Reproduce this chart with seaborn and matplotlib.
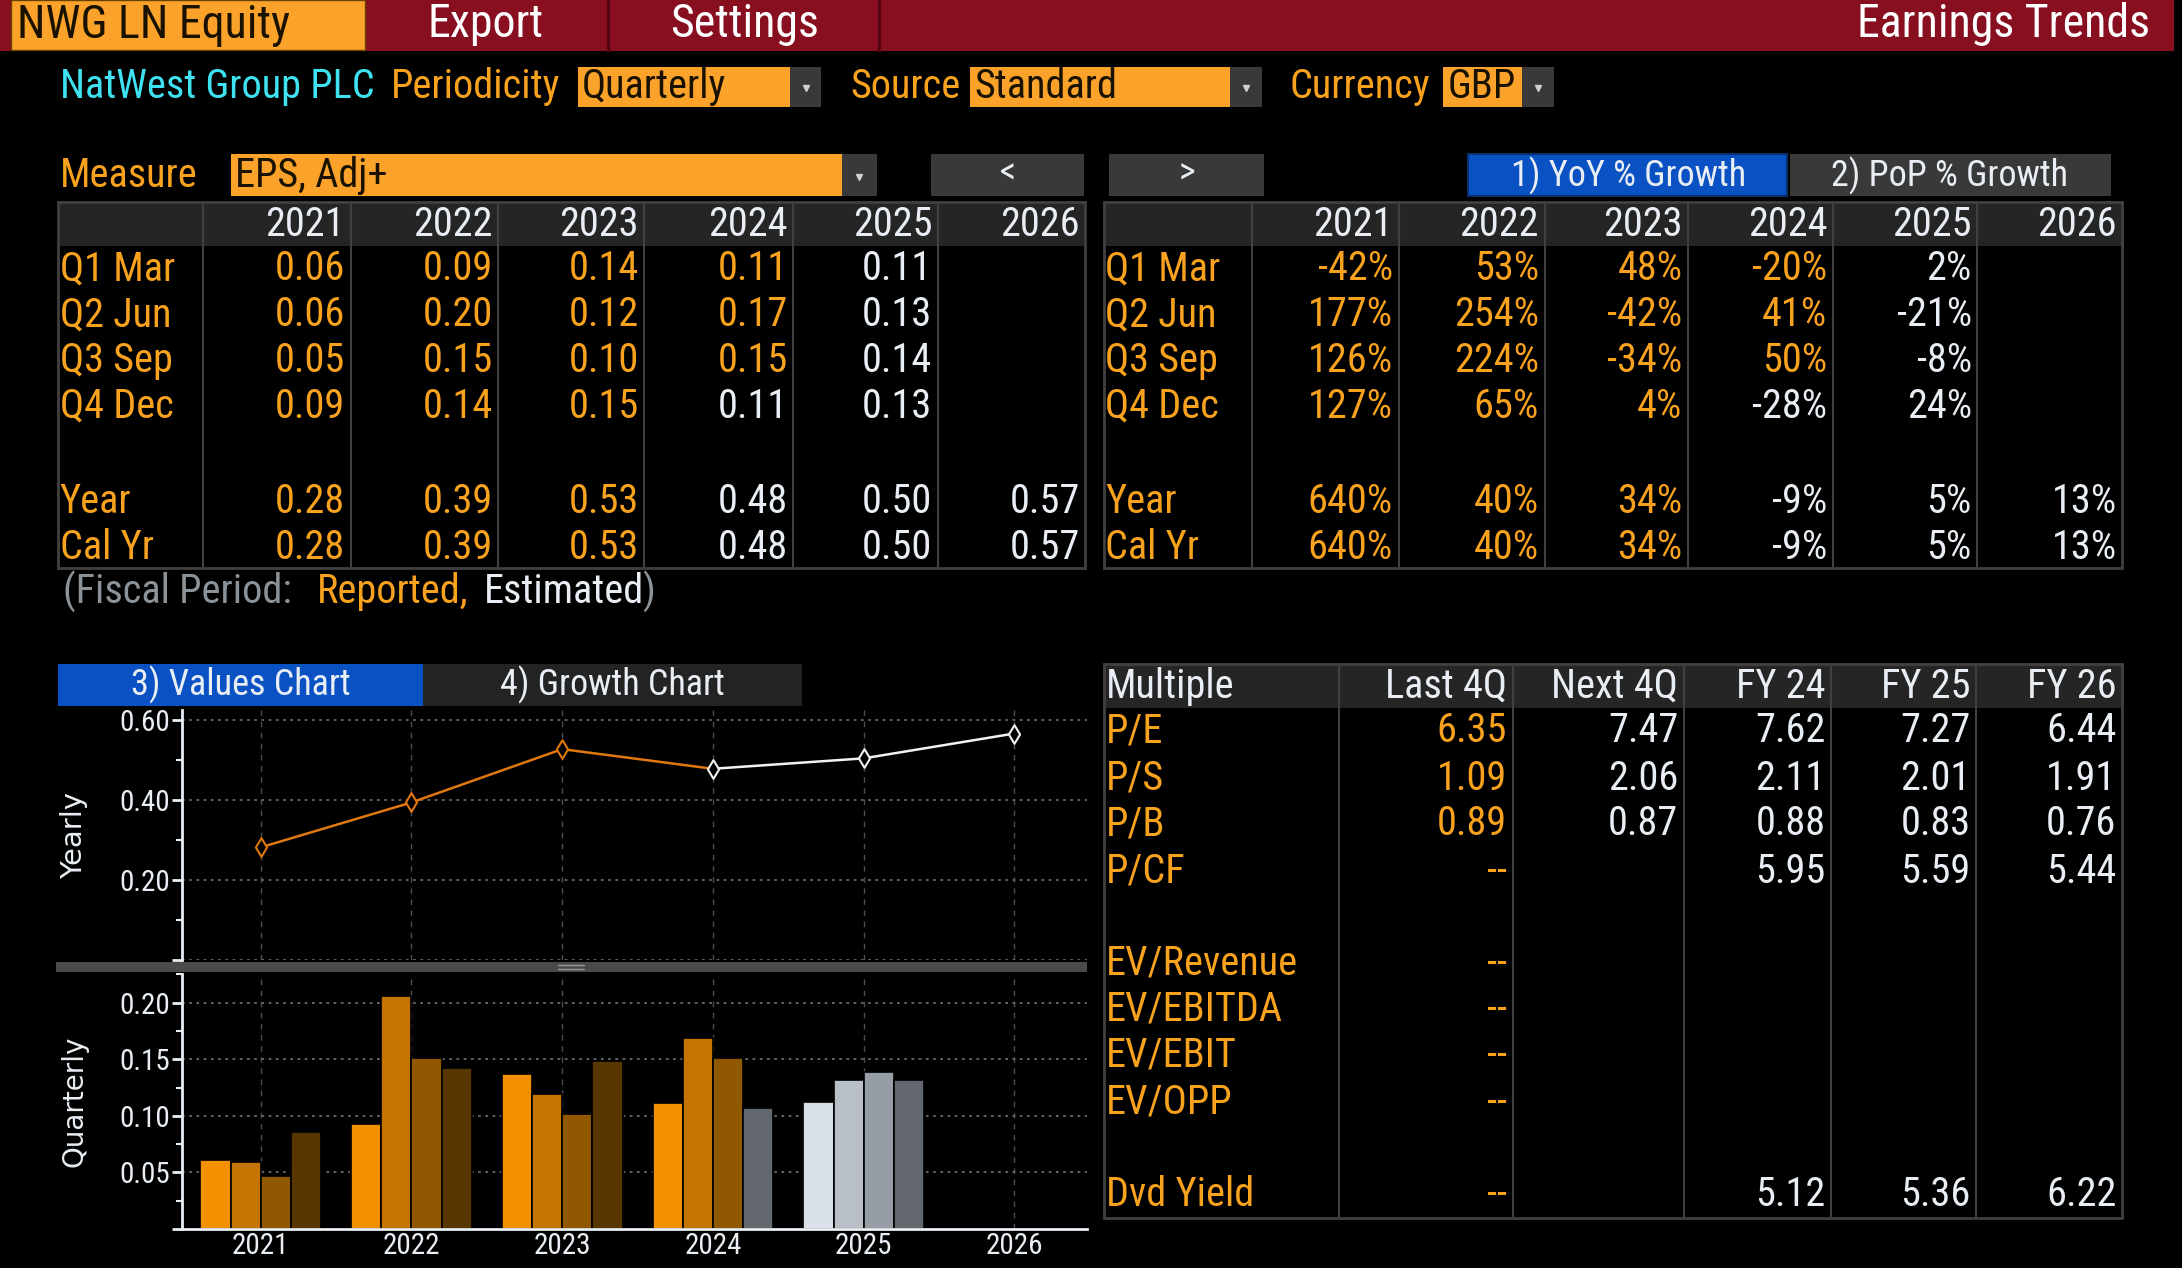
import matplotlib
matplotlib.use("Agg")
import matplotlib.pyplot as plt
from matplotlib import font_manager
from matplotlib.patches import Rectangle
from matplotlib.ticker import MultipleLocator, FuncFormatter
import pandas as pd
import seaborn as sns

# ------- DATA ---------
years = ["2021", "2022", "2023", "2024", "2025", "2026"]
quarters = ["Q1 Mar", "Q2 Jun", "Q3 Sep", "Q4 Dec"]
row_labels = ["Q1 Mar", "Q2 Jun", "Q3 Sep", "Q4 Dec", "", "Year", "Cal Yr"]

# quarterly EPS (no quarters for 2026)
eps_q1 = [0.061, 0.093, 0.137, 0.111, 0.112]
eps_q2 = [0.059, 0.206, 0.119, 0.169, 0.132]
eps_q3 = [0.047, 0.151, 0.102, 0.151, 0.139]
eps_q4 = [0.086, 0.142, 0.148, 0.107, 0.132]
q_first_estimate = [4, 4, 4, 3]          # index of first estimated year per quarter

# yearly EPS line
eps_year = [0.282, 0.394, 0.527, 0.478, 0.504, 0.566]
year_reported = [True, True, True, False, False, False]

# table text (as shown)
eps_table = [
    ["0.06", "0.09", "0.14", "0.11", "0.11", ""],
    ["0.06", "0.20", "0.12", "0.17", "0.13", ""],
    ["0.05", "0.15", "0.10", "0.15", "0.14", ""],
    ["0.09", "0.14", "0.15", "0.11", "0.13", ""],
    ["", "", "", "", "", ""],
    ["0.28", "0.39", "0.53", "0.48", "0.50", "0.57"],
    ["0.28", "0.39", "0.53", "0.48", "0.50", "0.57"],
]
growth_table = [
    ["-42%", "53%", "48%", "-20%", "2%", ""],
    ["177%", "254%", "-42%", "41%", "-21%", ""],
    ["126%", "224%", "-34%", "50%", "-8%", ""],
    ["127%", "65%", "4%", "-28%", "24%", ""],
    ["", "", "", "", "", ""],
    ["640%", "40%", "34%", "-9%", "5%", "13%"],
    ["640%", "40%", "34%", "-9%", "5%", "13%"],
]
row_first_estimate = [4, 4, 4, 3, 6, 3, 3]

mult_cols = ["Last 4Q", "Next 4Q", "FY 24", "FY 25", "FY 26"]
mult_rows = ["P/E", "P/S", "P/B", "P/CF", "", "EV/Revenue", "EV/EBITDA",
             "EV/EBIT", "EV/OPP", "", "Dvd Yield"]
mult_vals = [
    ["6.35", "7.47", "7.62", "7.27", "6.44"],
    ["1.09", "2.06", "2.11", "2.01", "1.91"],
    ["0.89", "0.87", "0.88", "0.83", "0.76"],
    ["--", "", "5.95", "5.59", "5.44"],
    ["", "", "", "", ""],
    ["--", "", "", "", ""],
    ["--", "", "", "", ""],
    ["--", "", "", "", ""],
    ["--", "", "", "", ""],
    ["", "", "", "", ""],
    ["--", "", "5.12", "5.36", "6.22"],
]

# ------- COLOURS ---------
BLACK = "#000000"
WHITE = "#E8EEF3"
ORANGE = "#F8A21E"
ORANGE_BOX = "#FBA22B"
BOX_TEXT = "#1A1200"
RED = "#870F20"
CYAN = "#3EE2F0"
BLUE = "#0A52C4"
BTN = "#393939"
HEADER = "#252525"
RULE = "#404040"
LINE_ORANGE = "#E0780F"
Q_REPORTED = ["#F29000", "#C47400", "#905800", "#583600"]
Q_ESTIMATED = ["#D9E0E7", "#B8BFC6", "#979DA4", "#63686E"]

sns.set_theme(style="dark")

# a narrow face looks closest to the terminal font, else Arial-like
def have_font(name):
    try:
        font_manager.findfont(font_manager.FontProperties(family=name), fallback_to_default=False)
        return True
    except ValueError:
        return False

narrow = [f for f in ["Roboto Condensed", "Liberation Sans Narrow", "Open Sans Condensed",
                      "Noto Sans Condensed"] if have_font(f)]
plt.rcParams["font.family"] = narrow[:1] + ["Liberation Sans", "DejaVu Sans"]
plt.rcParams["axes.unicode_minus"] = False
FS = 29 if narrow else 24       # main text size
FS_TOP = 33 if narrow else 27

# drawing units follow the reference at 1568 x 911 (saved at 2182 x 1268)
W, H = 1568, 911
fig = plt.figure(figsize=(21.82, 12.68), dpi=100, facecolor=BLACK)
bg = fig.add_axes([0, 0, 1, 1])
bg.set_xlim(0, W)
bg.set_ylim(H, 0)
bg.axis("off")


def rect(x0, y0, x1, y1):
    return [x0 / W, 1 - y1 / H, (x1 - x0) / W, (y1 - y0) / H]


def box(x0, y0, x1, y1, color, ec="none", lw=0):
    bg.add_patch(Rectangle((x0, y0), x1 - x0, y1 - y0, facecolor=color,
                           edgecolor=ec, linewidth=lw, zorder=1))


def txt(x, y, s, color, size=None, ha="left", **kw):
    bg.text(x, y, s, color=color, fontsize=size or FS, ha=ha, va="center", zorder=5, **kw)


def dropdown(x0, y0, x1, y1):
    box(x0, y0, x1, y1, BTN)
    bg.plot((x0 + x1) / 2, (y0 + y1) / 2 + 1, marker="v", color="#D0D0D0", ms=5, zorder=6)


# ------- TOP BAR ---------
box(0, 0, 1562, 37, RED)
box(8, 0, 262, 36, ORANGE_BOX, ec="#6A4200", lw=1)
for x in [437, 632]:
    bg.plot([x, x], [0, 37], color="#4E0712", lw=2, zorder=2)
txt(12, 18, "NWG LN Equity", BOX_TEXT, FS_TOP)
txt(349, 17, "Export", "white", FS_TOP, ha="center")
txt(535, 17, "Settings", "white", FS_TOP, ha="center")
txt(1545, 17, "Earnings Trends", "white", FS_TOP, ha="right")

# ------- SETTINGS ROW ---------
txt(43, 62, "NatWest Group PLC", CYAN)
txt(281, 62, "Periodicity", ORANGE)
box(415, 48, 568, 77, ORANGE_BOX)
txt(418, 62, "Quarterly", BOX_TEXT)
dropdown(568, 48, 590, 77)
txt(611, 62, "Source", ORANGE)
box(697, 48, 884, 77, ORANGE_BOX)
txt(700, 62, "Standard", BOX_TEXT)
dropdown(884, 48, 907, 77)
txt(927, 62, "Currency", ORANGE)
box(1037, 48, 1094, 77, ORANGE_BOX)
txt(1040, 62, "GBP", BOX_TEXT)
dropdown(1094, 48, 1117, 77)

txt(43, 126, "Measure", ORANGE)
box(166, 111, 605, 141, ORANGE_BOX)
txt(169, 126, "EPS, Adj+", BOX_TEXT)
dropdown(605, 111, 630, 141)
box(669, 111, 779, 141, BTN)
txt(724, 125, "<", WHITE, 26, ha="center")
box(797, 111, 908, 141, BTN)
txt(853, 125, ">", WHITE, 26, ha="center")
box(1055, 111, 1284, 141, BLUE, ec="#06306F", lw=1.5)
txt(1170, 126, "1) YoY % Growth", WHITE, FS - 3, ha="center")
box(1286, 111, 1517, 141, BTN)
txt(1401, 126, "2) PoP % Growth", WHITE, FS - 3, ha="center")

# ------- YEAR TABLES ---------
row_y = [193, 226, 259, 292, 326, 360, 393]


def year_table(edges, cells):
    top, bottom = 145, 408
    box(edges[0], top, edges[-1], 177, HEADER)
    bg.add_patch(Rectangle((edges[0], top), edges[-1] - edges[0], bottom - top,
                           facecolor="none", edgecolor=RULE, linewidth=2, zorder=3))
    for x in edges[1:-1]:
        bg.plot([x, x], [top, bottom], color=RULE, lw=1.5, zorder=3)
    for j, yr in enumerate(years):
        txt(edges[j + 2] - 4, 161, yr, WHITE, ha="right")
    for i, lab in enumerate(row_labels):
        txt(edges[0] + 1, row_y[i], lab, ORANGE)
        for j, val in enumerate(cells[i]):
            col = ORANGE if j < row_first_estimate[i] else WHITE
            txt(edges[j + 2] - 4, row_y[i], val, col, ha="right")


year_table([42, 146, 252, 358, 463, 570, 674, 780], eps_table)
year_table([793, 900, 1005, 1110, 1213, 1317, 1421, 1525], growth_table)

txt(45, 425, "(Fiscal Period:", "#8C9398")
txt(228, 425, "Reported,", ORANGE)
txt(348, 425, "Estimated", WHITE)
txt(462, 425, ")", "#8C9398")

# ------- MULTIPLES TABLE ---------
m_edges = [793, 962, 1087, 1210, 1316, 1420, 1525]
m_top, m_bottom = 477, 875
box(m_edges[0], m_top, m_edges[-1], 509, HEADER)
bg.add_patch(Rectangle((m_edges[0], m_top), m_edges[-1] - m_edges[0], m_bottom - m_top,
                       facecolor="none", edgecolor=RULE, linewidth=2, zorder=3))
for x in m_edges[1:-1]:
    bg.plot([x, x], [m_top, m_bottom], color=RULE, lw=1.5, zorder=3)
txt(795, 493, "Multiple", WHITE)
for j, c in enumerate(mult_cols):
    txt(m_edges[j + 2] - 4, 493, c, WHITE, ha="right")
m_row_y = [525, 559, 592, 626, 659, 692, 725, 758, 792, 825, 858]
for i, lab in enumerate(mult_rows):
    txt(795, m_row_y[i], lab, ORANGE)
    for j, val in enumerate(mult_vals[i]):
        txt(m_edges[j + 2] - 4, m_row_y[i], val, ORANGE if j == 0 else WHITE, ha="right")

# ------- CHART TABS ---------
box(42, 477, 304, 507, BLUE)
txt(173, 492, "3) Values Chart", WHITE, FS - 3, ha="center")
box(304, 477, 576, 507, "#232323")
txt(440, 492, "4) Growth Chart", WHITE, FS - 3, ha="center")

# separator between the two charts
box(40, 691, 781, 698, "#4A4A4A")
bg.plot([401, 420], [693.5, 693.5], color="#9A9A9A", lw=1, zorder=2)
bg.plot([401, 420], [696, 696], color="#9A9A9A", lw=1, zorder=2)


def style_chart(ax, ymax, major, minor, label, label_size):
    ax.set_facecolor(BLACK)
    ax.set_xlim(-0.52, 5.48)
    ax.set_ylim(0, ymax)
    ax.yaxis.set_major_locator(MultipleLocator(major))
    ax.yaxis.set_minor_locator(MultipleLocator(minor))
    ax.yaxis.set_major_formatter(FuncFormatter(lambda v, _: "" if v < 1e-9 else f"{v:.2f}"))
    ax.set_xticks(range(len(years)))
    for s in ["top", "right", "bottom"]:
        ax.spines[s].set_visible(False)
    ax.spines["left"].set_color(WHITE)
    ax.spines["left"].set_linewidth(2)
    ax.tick_params(axis="y", which="major", colors=WHITE, length=7, width=2,
                   labelsize=21, pad=2, left=True)
    ax.tick_params(axis="y", which="minor", colors=WHITE, length=4, width=1.5, left=True)
    ax.tick_params(axis="x", length=0)
    ax.grid(False)
    ax.grid(axis="y", which="major", color="#6A6A6A", linestyle=(0, (1.5, 2.5)), linewidth=1.3)
    ax.grid(axis="x", color="#4E4E4E", linestyle=(0, (4, 4)), linewidth=1)
    ax.set_xlabel("")
    ax.set_ylabel(label, color=WHITE, fontsize=label_size, family="DejaVu Sans")
    ax.yaxis.set_label_coords(-0.104, 0.5)


# ------- YEARLY LINE ---------
ax_y = fig.add_axes(rect(131, 510, 781, 690))
pos = list(range(len(years)))
last_rep = max(i for i, r in enumerate(year_reported) if r)
sns.lineplot(x=pos[:last_rep + 2], y=eps_year[:last_rep + 2], color=LINE_ORANGE,
             linewidth=1.8, ax=ax_y)
sns.lineplot(x=pos[last_rep + 1:], y=eps_year[last_rep + 1:], color="#F2F2F2",
             linewidth=1.8, ax=ax_y)
sns.scatterplot(x=pos[:last_rep + 1], y=eps_year[:last_rep + 1], marker="d", s=90,
                color=BLACK, edgecolor=LINE_ORANGE, linewidth=1.5, zorder=4, ax=ax_y)
sns.scatterplot(x=pos[last_rep + 1:], y=eps_year[last_rep + 1:], marker="d", s=90,
                color=BLACK, edgecolor="#F2F2F2", linewidth=1.5, zorder=4, ax=ax_y)
style_chart(ax_y, 0.625, 0.20, 0.10, "Yearly", 21)
ax_y.set_xticklabels([])

# ------- QUARTERLY BARS ---------
rows = []
for q, vals in zip(quarters, [eps_q1, eps_q2, eps_q3, eps_q4]):
    for yr, v in zip(years, vals):
        rows.append({"year": yr, "quarter": q, "eps": v})
df_q = pd.DataFrame(rows)

ax_q = fig.add_axes(rect(131, 700, 781, 883))
sns.barplot(data=df_q, x="year", y="eps", hue="quarter", order=years, hue_order=quarters,
            palette=Q_REPORTED, errorbar=None, width=0.8, edgecolor=BLACK, linewidth=1.2,
            saturation=1, legend=False, ax=ax_q)
for qi, cont in enumerate(ax_q.containers):
    for bar in cont:
        yi = int(round(bar.get_x() + bar.get_width() / 2))
        if yi >= q_first_estimate[qi]:
            bar.set_facecolor(Q_ESTIMATED[qi])
style_chart(ax_q, 0.225, 0.05, 0.025, "Quarterly", 20)
ax_q.spines["bottom"].set_visible(True)
ax_q.spines["bottom"].set_color(WHITE)
ax_q.spines["bottom"].set_linewidth(2)
ax_q.set_xticklabels(years, color=WHITE, fontsize=21)
ax_q.tick_params(axis="x", pad=2)

fig.savefig("out.png", dpi=100, facecolor=BLACK)
